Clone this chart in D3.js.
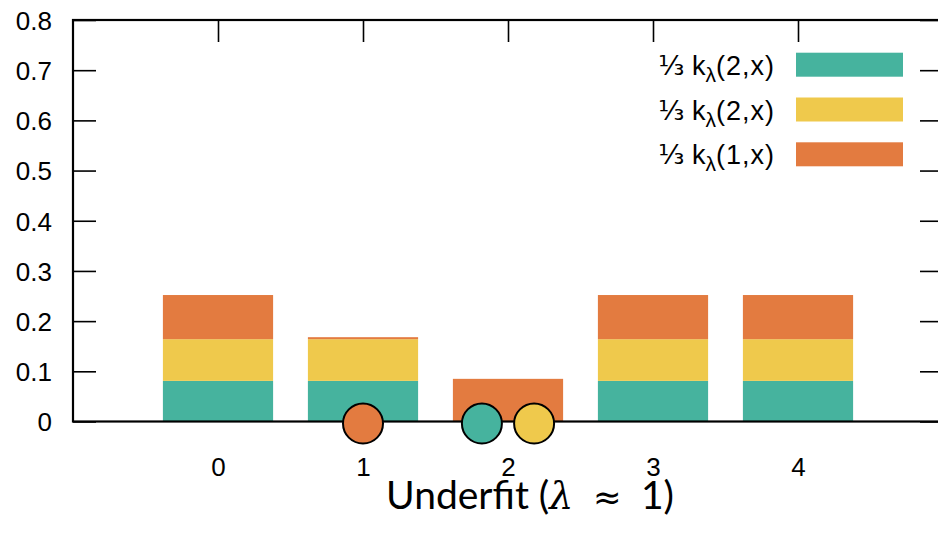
<!DOCTYPE html>
<html>
<head>
<meta charset="utf-8">
<script src="https://cdn.jsdelivr.net/npm/d3@7"></script>
<style>
  body { margin: 0; background: #fff; }
  text { font-family: "Liberation Sans", Arial, sans-serif; fill: #000; }
</style>
</head>
<body>
<svg id="chart" width="938" height="536"></svg>
<script>
// Données
const categories = [0, 1, 2, 3, 4];
const greenValues = [0.081, 0.081, 0, 0.081, 0.081];
const yellowValues = [0.083, 0.083, 0, 0.083, 0.083];
const orangeValues = [0.088, 0.004, 0.085, 0.088, 0.088];
const legendArgs = ['2', '2', '1'];
const seriesColors = ['#46b39e', '#efc94c', '#e37b40'];
const markerX = [1, 1.82, 2.18];
const markerY = [0, 0, 0];
const markerSeries = [2, 0, 1];
const yTicks = [0, 0.1, 0.2, 0.3, 0.4, 0.5, 0.6, 0.7, 0.8];

const svg = d3.select('#chart');

const x = d3.scaleLinear().domain([-1, 5]).range([73, 943]);
const y = d3.scaleLinear().domain([0, 0.8]).range([421.5, 20]);
const barWidth = 0.76;

// Axes (ticks vers l'intérieur, comme gnuplot)
const yAxis = svg.append('g')
    .attr('transform', `translate(${x(-1)},0)`)
    .call(d3.axisLeft(y).tickValues(yTicks).tickSize(-23).tickPadding(21)
        .tickFormat(d => d === 0 ? '0' : d3.format('.1f')(d)));
yAxis.selectAll('text').style('font-size', '26px').attr('dy', '0.36em');

svg.append('g')
    .attr('transform', `translate(${x(5)},0)`)
    .call(d3.axisRight(y).tickValues(yTicks).tickSize(-23).tickFormat(''));

svg.append('g')
    .attr('transform', `translate(0,${y(0.8)})`)
    .call(d3.axisTop(x).tickValues(categories).tickSize(-22).tickFormat(''));

const xAxis = svg.append('g')
    .attr('transform', `translate(0,${y(0)})`)
    .call(d3.axisBottom(x).tickValues(categories).tickSize(-22).tickPadding(36)
        .tickFormat(d3.format('d')));
xAxis.selectAll('text').style('font-size', '26px');

svg.selectAll('.domain').remove();
svg.selectAll('.tick line').attr('stroke', '#000').attr('stroke-width', 1.6);

// Barres empilées
const rows = categories.map((c, i) => ({ cat: c, s0: greenValues[i], s1: yellowValues[i], s2: orangeValues[i] }));
const stacked = d3.stack().keys(['s0', 's1', 's2'])(rows);

svg.append('g')
    .selectAll('g')
    .data(stacked)
    .enter()
    .append('g')
    .attr('fill', (d, i) => seriesColors[i])
    .selectAll('rect')
    .data(d => d.filter(p => p[1] - p[0] > 0))
    .enter()
    .append('rect')
    .attr('x', d => x(d.data.cat - barWidth / 2))
    .attr('width', d => x(barWidth) - x(0))
    .attr('y', d => y(d[1]))
    .attr('height', d => y(d[0]) - y(d[1]));

// Cadre
svg.append('rect')
    .attr('x', x(-1))
    .attr('y', y(0.8))
    .attr('width', x(5) - x(-1))
    .attr('height', y(0) - y(0.8))
    .attr('fill', 'none')
    .attr('stroke', '#000')
    .attr('stroke-width', 2.2);

// Points
svg.append('g')
    .selectAll('circle')
    .data(markerX.map((v, i) => ({ x: v, y: markerY[i], s: markerSeries[i] })))
    .enter()
    .append('circle')
    .attr('cx', d => x(d.x))
    .attr('cy', d => y(d.y) + 2)
    .attr('r', 20)
    .attr('fill', d => seriesColors[d.s])
    .attr('stroke', '#000')
    .attr('stroke-width', 2);

// Légende
const legend = svg.append('g');
legendArgs.forEach((arg, i) => {
    const cy = 64.7 + i * 44.8;
    legend.append('rect')
        .attr('x', 796).attr('y', cy - 12)
        .attr('width', 107).attr('height', 24)
        .attr('fill', seriesColors[i]);
    const t = legend.append('text')
        .attr('x', 775).attr('y', cy + 10)
        .attr('text-anchor', 'end')
        .style('font-size', '27px');
    t.append('tspan').style('font-family', '"DejaVu Sans", sans-serif').style('font-size', '27px').text('\u2153');
    t.append('tspan').text(' k');
    t.append('tspan').attr('dy', 7).style('font-size', '21px').text('\u03bb');
    t.append('tspan').attr('dy', -7).style('letter-spacing', '1px').text(`(${arg},x)`);
});

// Titre de l'axe x
const title = svg.append('text')
    .attr('x', 530)
    .attr('y', 509)
    .attr('text-anchor', 'middle')
    .style('font-family', 'Lato, "Open Sans", sans-serif')
    .style('font-size', '39px');
title.append('tspan').text('Underfit (');
title.append('tspan').style('font-style', 'italic').style('font-family', '"DejaVu Serif", serif').style('font-size', '38px').text('\u03bb');
title.append('tspan').text('\u2002');
title.append('tspan').style('font-family', '"DejaVu Sans", sans-serif').style('font-size', '34px').text('\u2248');
title.append('tspan').text('\u2002');
title.append('tspan').text('1)');
</script>
</body>
</html>
